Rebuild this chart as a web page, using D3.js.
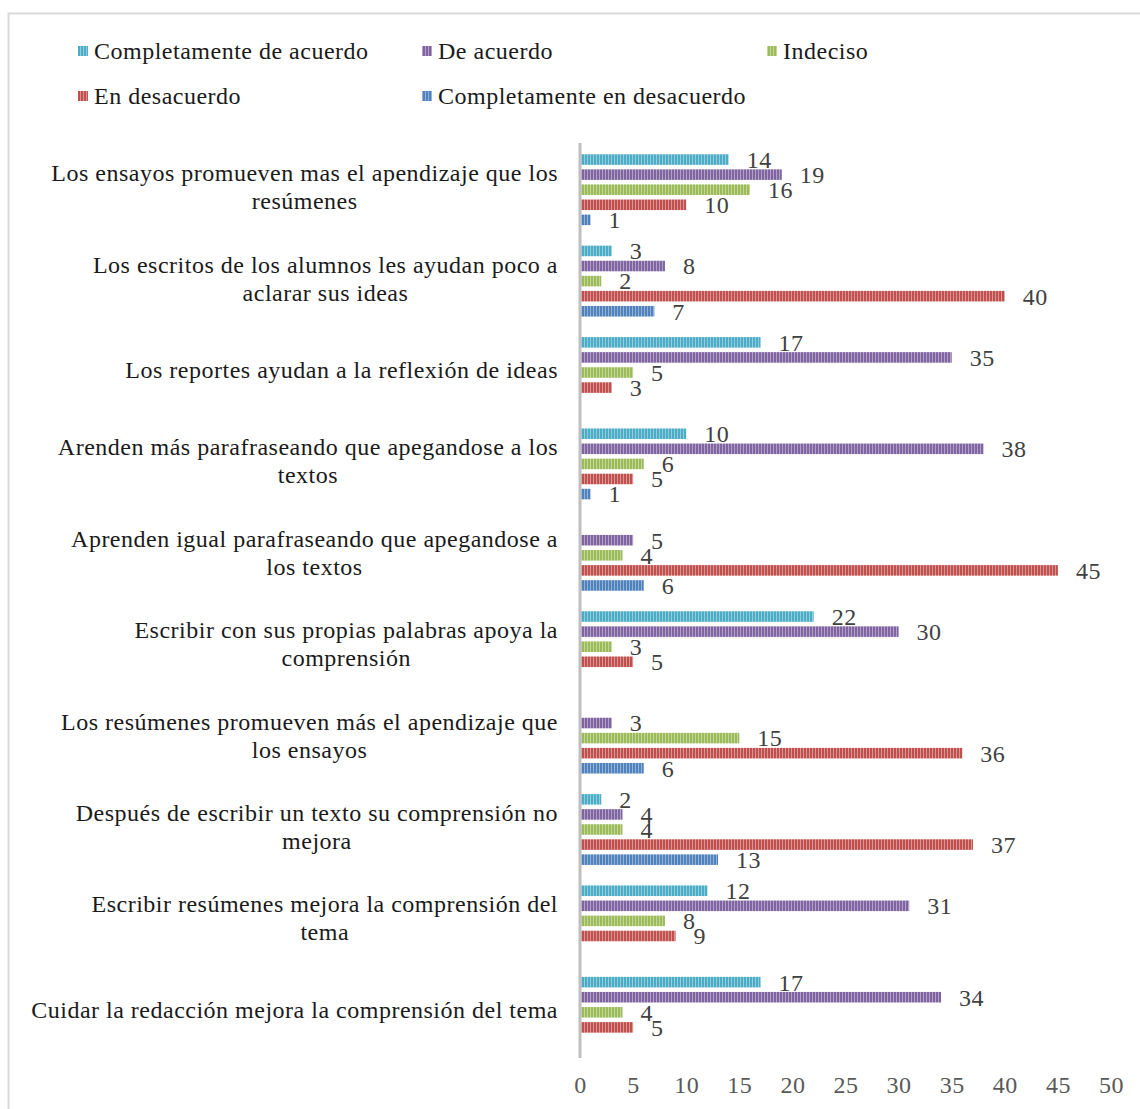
<!DOCTYPE html>
<html><head><meta charset="utf-8">
<script src="https://cdn.jsdelivr.net/npm/d3@7"></script>
<style>body{margin:0;background:#fff;} svg{display:block;}</style>
</head><body>
<svg id="chart" width="1140" height="1109"></svg>
<script>
const categories = [
  "Los ensayos promueven mas el apendizaje que los\nresúmenes",
  "Los escritos de los alumnos les ayudan poco a\naclarar sus ideas",
  "Los reportes ayudan a la reflexión de ideas",
  "Arenden más parafraseando que apegandose a los\ntextos",
  "Aprenden igual parafraseando que apegandose a\nlos textos",
  "Escribir con sus propias palabras apoya la\ncomprensión",
  "Los resúmenes promueven más el apendizaje que\nlos ensayos",
  "Después de escribir un texto su comprensión no\nmejora",
  "Escribir resúmenes mejora la comprensión del\ntema",
  "Cuidar la redacción mejora la comprensión del tema"
];
const seriesNames = ["Completamente de acuerdo","De acuerdo","Indeciso","En desacuerdo","Completamente en desacuerdo"];
const seriesColors = ["#4bacc6","#8064a2","#9bbb59","#c0504d","#4f81bd"];
const completamenteDeAcuerdo = [14,3,17,10,null,22,null,2,12,17];
const deAcuerdo = [19,8,35,38,5,30,3,4,31,34];
const indeciso = [16,2,5,6,4,3,15,4,8,4];
const enDesacuerdo = [10,40,3,5,45,5,36,37,9,5];
const completamenteEnDesacuerdo = [1,7,null,1,6,null,6,13,null,null];
const seriesValues = [completamenteDeAcuerdo, deAcuerdo, indeciso, enDesacuerdo, completamenteEnDesacuerdo];
const xTicks = [0,5,10,15,20,25,30,35,40,45,50];

const FONT = "'Liberation Serif', serif";
const fs = 24;
const LS = "0.5px";
const svg = d3.select("#chart");

// border
svg.append("rect").attr("x", 8.5).attr("y", 13.5).attr("width", 1300).attr("height", 1300)
  .attr("fill", "none").attr("stroke", "#d9d9d9").attr("stroke-width", 2);

// patterns
const defs = svg.append("defs");
seriesColors.forEach((c, i) => {
  const p = defs.append("pattern").attr("id", "pat" + i).attr("patternUnits", "userSpaceOnUse")
    .attr("width", 3).attr("height", 10);
  p.append("rect").attr("width", 3).attr("height", 10).attr("fill", c);
  p.append("rect").attr("x", 2).attr("width", 1).attr("height", 10).attr("fill", "#fff").attr("opacity", 0.4);
});

const x = d3.scaleLinear().domain([0, 50]).range([580, 1111]);
const y0 = d3.scaleBand().domain(categories).range([144, 1058]);
const y1 = d3.scaleBand().domain(seriesNames).range([8, y0.bandwidth() - 8]).paddingInner(0.3).paddingOuter(0.15);

// bars
categories.forEach((cat, ci) => {
  const g = svg.append("g").attr("transform", `translate(0,${y0(cat)})`);
  seriesNames.forEach((s, si) => {
    const v = seriesValues[si][ci];
    if (v == null) return;
    g.append("rect").attr("x", x(0)).attr("y", y1(s)).attr("width", x(v) - x(0)).attr("height", y1.bandwidth())
      .attr("fill", `url(#pat${si})`);
    g.append("text").attr("x", x(v) + 18).attr("y", y1(s) + y1.bandwidth() / 2)
      .attr("dy", "0.35em").attr("font-family", FONT).attr("font-size", fs).attr("letter-spacing", LS)
      .attr("fill", "#404040").text(v);
  });
  // category label (lines centred within a right-aligned block)
  const lines = cat.split("\n");
  const cy = y0(cat) + y0.bandwidth() / 2 - 3;
  const lh = 28;
  const t = svg.append("text").attr("text-anchor", "middle").attr("font-family", FONT).attr("font-size", fs)
    .attr("letter-spacing", LS).attr("fill", "#1a1a1a");
  const spans = lines.map((l, li) =>
    t.append("tspan").attr("y", cy + (li - (lines.length - 1) / 2) * lh).attr("dy", "0.35em").text(l));
  const maxW = d3.max(spans, s => s.node().getComputedTextLength());
  spans.forEach(s => s.attr("x", 558 - maxW / 2));
});

// vertical axis line
svg.append("line").attr("x1", x(0)).attr("x2", x(0)).attr("y1", 143).attr("y2", 1058)
  .attr("stroke", "#bfbfbf").attr("stroke-width", 3);

// x axis
const xAxis = svg.append("g").attr("transform", "translate(0,1075)")
  .call(d3.axisBottom(x).tickValues(xTicks).tickSize(0).tickPadding(0));
xAxis.select(".domain").remove();
xAxis.selectAll("text").attr("font-family", FONT).attr("font-size", fs).attr("letter-spacing", LS)
  .attr("fill", "#595959").attr("dy", "0.75em");

// legend
const legendPos = [[78, 51], [422, 51], [767, 51], [78, 96], [422, 96]];
seriesNames.forEach((s, i) => {
  const [lx, ly] = legendPos[i];
  svg.append("rect").attr("x", lx).attr("y", ly - 5).attr("width", 10).attr("height", 10).attr("fill", `url(#pat${i})`);
  svg.append("text").attr("x", lx + 16).attr("y", ly).attr("dy", "0.35em").attr("font-family", FONT)
    .attr("font-size", fs).attr("letter-spacing", LS).attr("fill", "#1a1a1a").text(s);
});
</script>
</body></html>
